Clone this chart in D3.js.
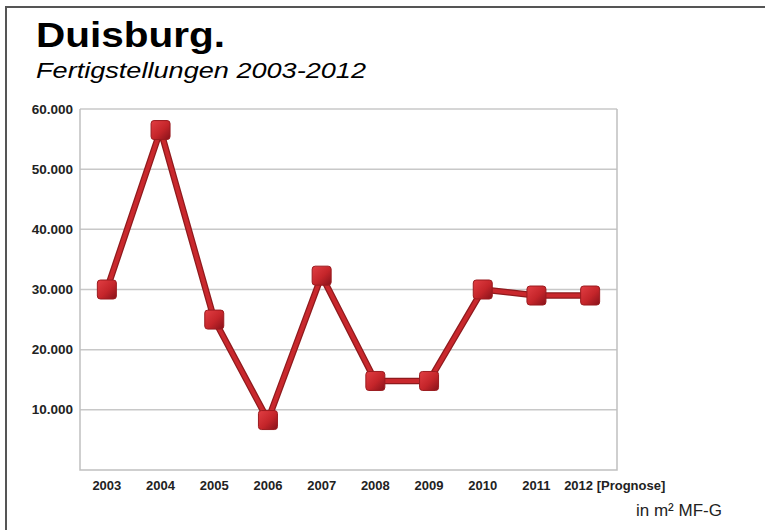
<!DOCTYPE html>
<html><head><meta charset="utf-8">
<script src="https://cdn.jsdelivr.net/npm/d3@7"></script>
<style>body{margin:0;background:#fff}svg{display:block}</style>
</head><body>
<svg id="c" width="765" height="530"></svg>
<script>
const categories = ["2003","2004","2005","2006","2007","2008","2009","2010","2011","2012"];
const values = [30000,56500,25000,8300,32300,14800,14800,30000,29000,29000];
const yTicks = [10000,20000,30000,40000,50000,60000];
const tickLabels = ["10.000","20.000","30.000","40.000","50.000","60.000"];
const xLabels = ["2003","2004","2005","2006","2007","2008","2009","2010","2011","2012 [Prognose]"];

const svg = d3.select("#c");
const F = "Liberation Sans, Arial, sans-serif";
const m = {l:80, r:617, t:109, b:470};
const x = d3.scaleBand().domain(categories).range([m.l, m.r]);
const y = d3.scaleLinear().domain([0,60000]).range([m.b, m.t]);

// frame
svg.append("path").attr("d","M6,530 V7 H765").attr("fill","none").attr("stroke","#555").attr("stroke-width",2);

// titles
svg.append("text").attr("x",36).attr("y",47).attr("font-family",F)
  .attr("font-weight","bold").attr("font-size",35)
  .attr("textLength",189).attr("lengthAdjust","spacingAndGlyphs").text("Duisburg.");
svg.append("text").attr("x",36).attr("y",78).attr("font-family",F)
  .attr("font-style","italic").attr("font-size",22)
  .attr("textLength",330).attr("lengthAdjust","spacingAndGlyphs").text("Fertigstellungen 2003-2012");

// gridlines
svg.append("g").selectAll("line").data(yTicks).join("line")
  .attr("x1",m.l).attr("x2",m.r).attr("y1",d=>y(d)).attr("y2",d=>y(d))
  .attr("stroke","#c8c8c8").attr("stroke-width",1.5);
svg.append("path").attr("d",`M${m.l},${m.t} V${m.b} H${m.r} V${m.t}`).attr("fill","none").attr("stroke","#c0c0c0").attr("stroke-width",1.5);

// y labels
svg.append("g").selectAll("text").data(yTicks).join("text")
  .attr("x",73).attr("y",d=>y(d)+4.5).attr("text-anchor","end")
  .attr("font-family",F).attr("font-weight","bold").attr("font-size",13.5)
  .attr("fill","#222").text((d,i)=>tickLabels[i]);

// x labels
const last = categories.length-1;
svg.append("g").selectAll("text").data(categories).join("text")
  .attr("x",(d,i)=>x(d)+x.bandwidth()/2 + (i===last ? -26 : 0)).attr("y",490)
  .attr("text-anchor",(d,i)=>i===last ? "start" : "middle")
  .attr("font-family",F).attr("font-weight","bold").attr("font-size",13)
  .attr("fill","#222").text((d,i)=>xLabels[i]);

svg.append("text").attr("x",636).attr("y",516).attr("font-family",F)
  .attr("font-size",17).attr("fill","#222").text("in m² MF-G");

// gradient for markers
const defs = svg.append("defs");
const g = defs.append("linearGradient").attr("id","mk").attr("x1","0").attr("y1","0").attr("x2","1").attr("y2","1");
g.append("stop").attr("offset","0").attr("stop-color","#e23e43");
g.append("stop").attr("offset","0.55").attr("stop-color","#c4252a");
g.append("stop").attr("offset","1").attr("stop-color","#86121a");

const pts = categories.map((c,i)=>[x(c)+x.bandwidth()/2, y(values[i])]);
const line = d3.line();
svg.append("path").attr("d",line(pts)).attr("fill","none").attr("stroke","#8f1a1d").attr("stroke-width",6.5).attr("stroke-linejoin","round");
svg.append("path").attr("d",line(pts)).attr("fill","none").attr("stroke","#c9282d").attr("stroke-width",4).attr("stroke-linejoin","round");

const s = 19;
svg.append("g").selectAll("rect").data(pts).join("rect")
  .attr("x",d=>d[0]-s/2).attr("y",d=>d[1]-s/2).attr("width",s).attr("height",s).attr("rx",3)
  .attr("fill","url(#mk)").attr("stroke","#9a1b1f").attr("stroke-width",1);
</script>
</body></html>
